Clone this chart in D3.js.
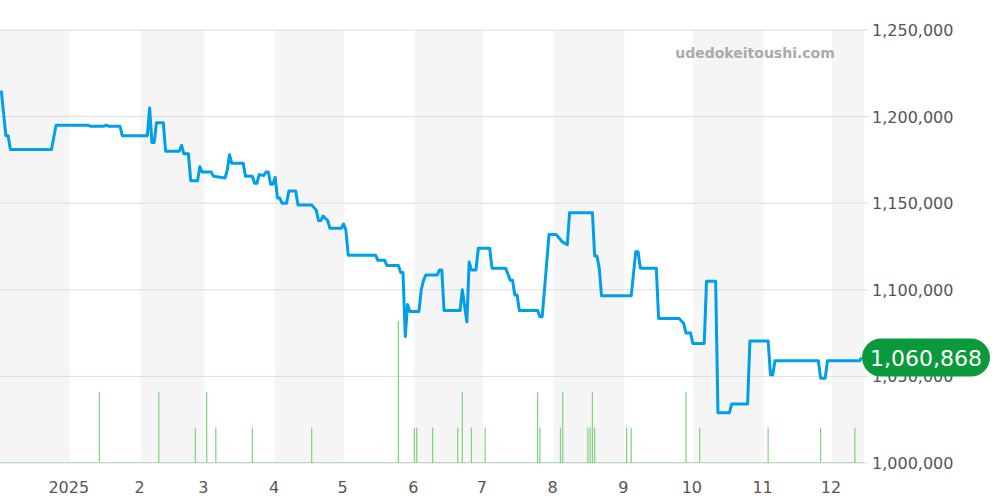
<!DOCTYPE html>
<html><head><meta charset="utf-8">
<script src="https://cdn.jsdelivr.net/npm/d3@7"></script>
<style>body{margin:0;background:#fff}svg{display:block}</style>
</head><body><svg id="c" width="1000" height="500"></svg>
<script>
const priceDates=["2024-12-02","2024-12-04","2024-12-05","2024-12-06","2024-12-24","2024-12-26","2025-01-09","2025-01-10","2025-01-16","2025-01-17","2025-01-18","2025-01-23","2025-01-24","2025-02-04","2025-02-05","2025-02-06","2025-02-07","2025-02-08","2025-02-11","2025-02-12","2025-02-18","2025-02-19","2025-02-20","2025-02-22","2025-02-23","2025-02-26","2025-02-27","2025-02-28","2025-03-04","2025-03-05","2025-03-10","2025-03-11","2025-03-12","2025-03-13","2025-03-18","2025-03-19","2025-03-22","2025-03-23","2025-03-24","2025-03-25","2025-03-27","2025-03-28","2025-03-29","2025-03-30","2025-03-31","2025-04-01","2025-04-02","2025-04-03","2025-04-04","2025-04-06","2025-04-07","2025-04-10","2025-04-11","2025-04-17","2025-04-19","2025-04-20","2025-04-21","2025-04-22","2025-04-24","2025-04-25","2025-04-30","2025-05-01","2025-05-02","2025-05-03","2025-05-15","2025-05-16","2025-05-19","2025-05-20","2025-05-25","2025-05-26","2025-05-27","2025-05-28","2025-05-29","2025-05-30","2025-06-03","2025-06-04","2025-06-05","2025-06-06","2025-06-11","2025-06-12","2025-06-13","2025-06-14","2025-06-21","2025-06-22","2025-06-24","2025-06-25","2025-06-26","2025-06-28","2025-06-29","2025-07-04","2025-07-05","2025-07-11","2025-07-13","2025-07-14","2025-07-15","2025-07-16","2025-07-17","2025-07-25","2025-07-26","2025-07-27","2025-07-28","2025-07-30","2025-08-02","2025-08-05","2025-08-07","2025-08-08","2025-08-18","2025-08-19","2025-08-20","2025-08-21","2025-08-22","2025-09-04","2025-09-06","2025-09-07","2025-09-08","2025-09-15","2025-09-16","2025-09-25","2025-09-27","2025-09-28","2025-09-30","2025-10-01","2025-10-06","2025-10-07","2025-10-11","2025-10-12","2025-10-17","2025-10-18","2025-10-25","2025-10-26","2025-11-03","2025-11-04","2025-11-05","2025-11-06","2025-11-25","2025-11-26","2025-11-28","2025-11-29","2025-12-13","2025-12-14"];
const priceValues=[1215000,1189000,1189000,1181000,1181000,1195000,1195000,1194500,1194500,1195000,1194500,1194500,1189000,1189000,1205000,1185000,1185000,1196500,1196500,1180000,1180000,1183500,1178500,1178500,1163000,1163000,1171000,1168000,1168000,1165500,1164500,1169000,1178000,1173000,1173000,1165500,1165500,1161500,1161500,1166500,1166000,1168000,1168000,1161000,1161000,1165000,1153000,1153000,1150000,1150000,1157000,1157000,1149000,1149000,1146000,1140000,1140000,1142500,1140000,1135500,1135500,1138000,1134500,1120000,1120000,1117000,1117000,1114000,1114000,1110000,1110000,1073000,1091500,1087500,1087500,1100000,1105500,1108500,1108500,1111500,1111500,1088000,1088000,1100000,1081500,1116000,1111500,1111500,1124000,1124000,1112500,1112500,1105500,1105500,1097000,1097000,1088000,1088000,1084500,1084500,1100000,1132000,1132000,1127500,1126000,1144500,1144500,1119500,1119500,1112500,1096500,1096500,1122000,1122000,1112500,1112500,1083500,1083500,1080500,1075000,1075000,1069000,1069000,1105000,1105000,1029000,1029000,1034000,1034000,1070500,1070500,1051000,1051000,1059000,1059000,1049000,1049000,1059000,1059000,1060868];
const volDates=["2025-01-14","2025-02-09","2025-02-25","2025-03-02","2025-03-06","2025-03-22","2025-04-17","2025-05-25","2025-06-01","2025-06-02","2025-06-09","2025-06-20","2025-06-22","2025-06-26","2025-07-02","2025-07-25","2025-07-26","2025-08-04","2025-08-05","2025-08-16","2025-08-17","2025-08-18","2025-08-19","2025-09-02","2025-09-04","2025-09-28","2025-10-04","2025-11-03","2025-11-26","2025-12-11"];
const volValues=[2,2,1,2,1,1,1,4,1,1,1,1,2,1,1,2,1,1,2,1,1,2,1,1,1,2,1,1,1,1];
const yTicks=[1000000,1050000,1100000,1150000,1200000,1250000];
const lastLabel="1,060,868";
const watermark="udedokeitoushi.com";

const p=d3.timeParse("%Y-%m-%d");
const svg=d3.select("#c");
const x=d3.scaleTime().domain([p("2024-12-01"),p("2025-12-15")]).range([-1,864]);
const y=d3.scaleLinear().domain([1000000,1250000]).range([463,30]);
const yv=d3.scaleLinear().domain([0,4]).range([463,321]);
const months=d3.timeMonth.range(p("2024-12-01"),p("2025-12-15"));
svg.append("g").selectAll("rect").data(months.filter((d,i)=>i%2===0)).join("rect")
 .attr("x",d=>Math.max(0,x(d))).attr("y",30).attr("height",433)
 .attr("width",d=>Math.min(x(d3.timeMonth.offset(d,1)),864)-Math.max(0,x(d))).attr("fill","#f5f5f5");
svg.append("g").selectAll("line").data(yTicks).join("line")
 .attr("x1",0).attr("x2",868).attr("y1",d=>y(d)).attr("y2",d=>y(d)).attr("stroke","#ddd");
svg.append("g").selectAll("text").data(yTicks).join("text")
 .attr("x",872).attr("y",d=>y(d)+6).text(d3.format(",")).attr("fill","#555")
 .attr("font-family","DejaVu Sans").attr("font-size",16);
svg.append("g").selectAll("text").data(months.slice(1)).join("text")
 .attr("x",d=>x(d)-1).attr("y",493).attr("text-anchor","middle").attr("fill","#555")
 .attr("font-family","DejaVu Sans").attr("font-size",16)
 .text(d=>d.getMonth()===0?d.getFullYear():d.getMonth()+1);
svg.append("line").attr("x1",0).attr("x2",864).attr("y1",462.5).attr("y2",462.5).attr("stroke","#b5e2b5");
svg.append("g").selectAll("line").data(volDates.map((d,i)=>[p(d),volValues[i]])).join("line")
 .attr("x1",d=>x(d[0])).attr("x2",d=>x(d[0])).attr("y1",463).attr("y2",d=>yv(d[1]))
 .attr("stroke","#7fd17f").attr("stroke-width",1.2);
svg.append("path").datum(priceDates.map((d,i)=>[p(d),priceValues[i]]))
 .attr("d",d3.line().x(d=>x(d[0])).y(d=>y(d[1])))
 .attr("fill","none").attr("stroke","#00a0e9").attr("stroke-width",3).attr("stroke-linejoin","round");
svg.append("text").attr("x",755).attr("y",58).attr("text-anchor","middle").attr("fill","#aaa")
 .attr("font-family","DejaVu Sans").attr("font-weight","bold").attr("font-size",14).text(watermark);
const ly=y(priceValues[priceValues.length-1]);
svg.append("rect").attr("x",862).attr("y",ly-19).attr("width",128).attr("height",38).attr("rx",19).attr("fill","#0a9a3c");
svg.append("text").attr("x",926).attr("y",ly+8).attr("text-anchor","middle").attr("fill","#fff")
 .attr("font-family","DejaVu Sans").attr("font-size",22).text(lastLabel);
</script></body></html>
